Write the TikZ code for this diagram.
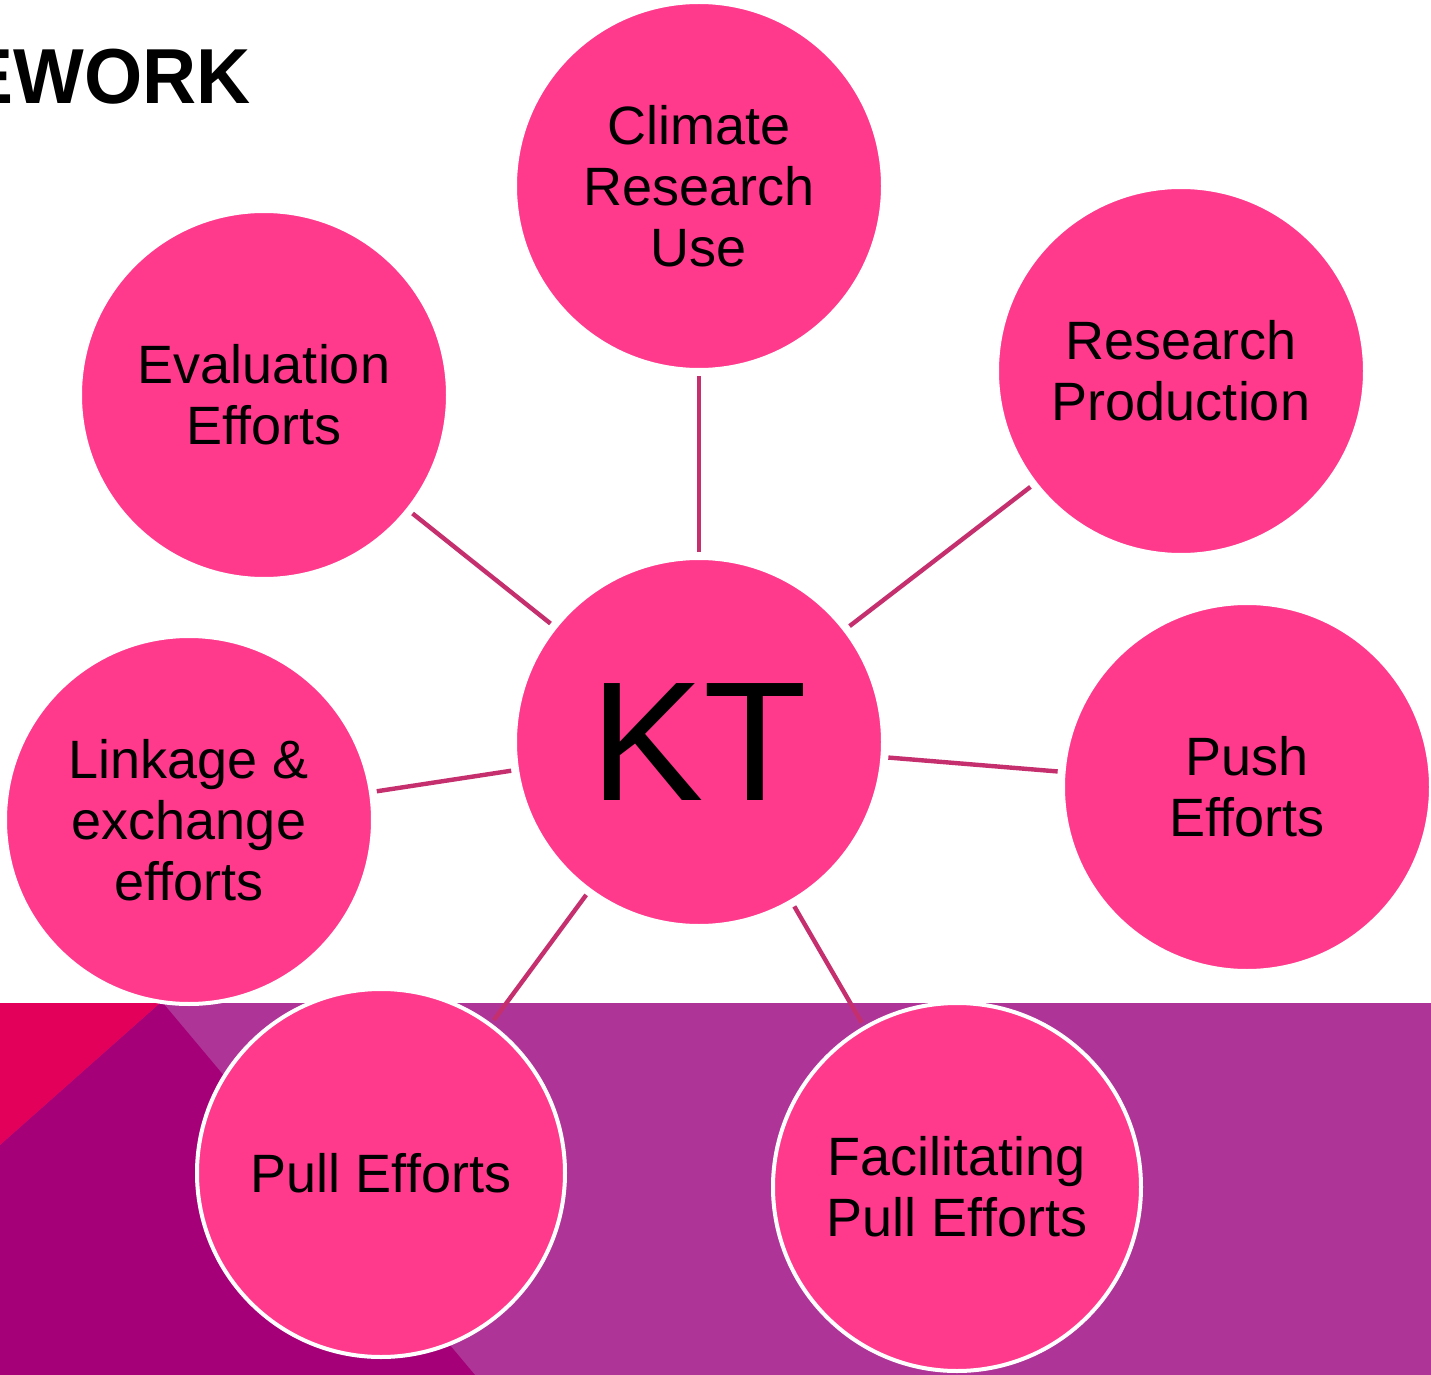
\documentclass[tikz,border=0pt]{standalone}
\usepackage{fontspec}
\setmainfont{Liberation Sans}
\definecolor{bubble}{HTML}{FF3A8C}
\definecolor{band}{HTML}{AE3597}
\definecolor{bandDark}{HTML}{A50077}
\definecolor{bandRed}{HTML}{E2005A}
\definecolor{link}{HTML}{C62F6E}
\begin{document}
\begin{tikzpicture}[x=0.5pt,y=-0.5pt,
  bubble/.style={circle,fill=bubble,draw=white,line width=2pt,inner sep=0pt,
    minimum size=184pt,align=center,text=black,
    font=\fontsize{27pt}{30.5pt}\selectfont},
  spoke/.style={draw=link,line width=2.2pt,shorten <=2pt,shorten >=2pt}]
\useasboundingbox (0,0) rectangle (1431,1375);
\clip (0,0) rectangle (1431,1375);
% backdrop band
\fill[white] (0,0) rectangle (1431,1375);
\fill[band] (0,1003) rectangle (1431,1375);
\fill[bandDark] (0,1145) -- (160,1003) -- (163,1003) -- (475,1375) -- (0,1375) -- cycle;
\fill[bandRed] (0,1003) -- (160,1003) -- (0,1145) -- cycle;
% heading
\node[anchor=base east,inner sep=0pt,font=\fontsize{39pt}{39pt}\selectfont\bfseries] (title) at (251,104) {\scalebox{0.96}[1]{EWORK}};
% bubbles
\node[bubble] (kt) at (699,742) {\fontsize{85pt}{85pt}\selectfont KT};
\node[bubble] (use) at (699,186) {Climate\\Research\\Use};
\node[bubble] (prod) at (1181,371) {Research\\Production};
\node[bubble] (eval) at (264,395) {Evaluation\\Efforts};
\node[bubble] (push) at (1247,787) {Push\\Efforts};
\node[bubble] (link) at (189,820) {Linkage \&\\exchange\\efforts};
\node[bubble] (pull) at (381,1173) {Pull Efforts};
\node[bubble] (fac) at (957,1187) {Facilitating\\Pull Efforts};
% spokes
\draw[spoke] (kt) -- (use);
\draw[spoke] (kt) -- (prod);
\draw[spoke] (kt) -- (eval);
\draw[spoke] (kt) -- (push);
\draw[spoke] (kt) -- (link);
\draw[spoke] (kt) -- (pull);
\draw[spoke] (kt) -- (fac);
\end{tikzpicture}
\end{document}
